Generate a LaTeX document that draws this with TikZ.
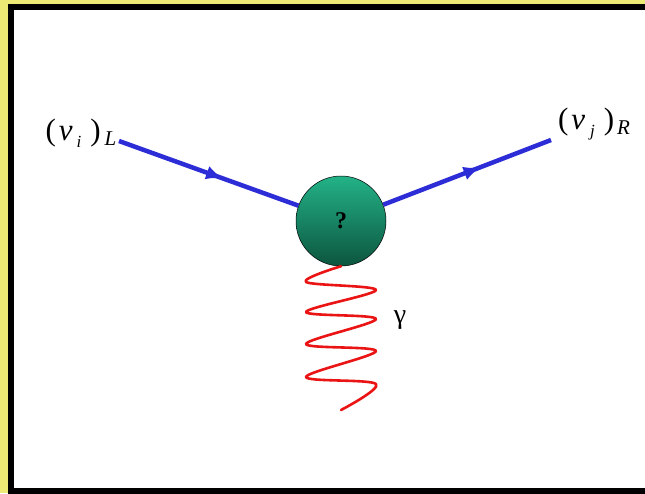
\documentclass[tikz,border=0pt]{standalone}
\usepackage{fontspec}
\setmainfont{Liberation Serif}
\usepackage{tikz}
\usetikzlibrary{arrows.meta,positioning,decorations.markings}

\definecolor{slideyellow}{RGB}{238,234,118}
\definecolor{fermionblue}{RGB}{45,45,215}
\definecolor{photonred}{RGB}{235,20,20}
\definecolor{blobtop}{RGB}{35,178,135}
\definecolor{blobbottom}{RGB}{12,85,62}

\newcommand{\lowsub}[3]{\raisebox{#1}{\fontsize{#2}{#2}\selectfont\textit{#3}}}

\begin{document}
\begin{tikzpicture}[
  x=1pt, y=-1pt,
  >={Latex[length=17pt,width=14pt]},
  fermion/.style={draw=fermionblue, line width=4.5pt,
    postaction={decorate},
    decoration={markings, mark=at position 0.58 with {\arrow[fermionblue]{>}}}},
  photon/.style={draw=photonred, line width=2.6pt, line cap=round, line join=round},
  blob/.style={circle, draw=black, line width=0.5pt, minimum size=90pt, inner sep=0pt,
    top color=blobtop, bottom color=blobbottom},
  particle/.style={font=\fontsize{31}{33}\selectfont, inner sep=0pt}
]

% Slide background and frame
\useasboundingbox (0,0) rectangle (645,493);
\fill[slideyellow] (0,0) rectangle (645,493);
\draw[black, line width=6pt, fill=white] (11,7) rectangle (660,491);

% Vertex
\node[blob] (blob) at (341,221) {\fontsize{24}{24}\selectfont\bfseries ?};

% External neutrinos
\node[particle] (nuL) at (81,133)
  {(\kern3pt\textit{ν}\kern4pt\lowsub{-7pt}{17}{i}\kern9pt)\kern4pt\lowsub{-5pt}{21}{L}};
\node[particle] (nuR) at (594,124)
  {(\kern3pt\textit{ν}\kern5pt\lowsub{-7pt}{17}{j}\kern9pt)\kern3pt\lowsub{-5pt}{21}{R}};
\coordinate (inL) at (119,141);
\coordinate (outR) at (551,140);

\draw[fermion] (inL) -- (blob);
\draw[fermion] (blob) -- (outR);

% Photon line
\coordinate (gend) at (341,410);
\draw[photon] plot[smooth, tension=0.55] coordinates {
  (blob.south) (306,282) (376,290) (306,312) (376,319)
  (306,344) (376,351) (306,377) (376,384) (gend)};
\node[particle, font=\fontsize{28}{30}\selectfont] (gamma) at (400,320) {γ};

\end{tikzpicture}
\end{document}
